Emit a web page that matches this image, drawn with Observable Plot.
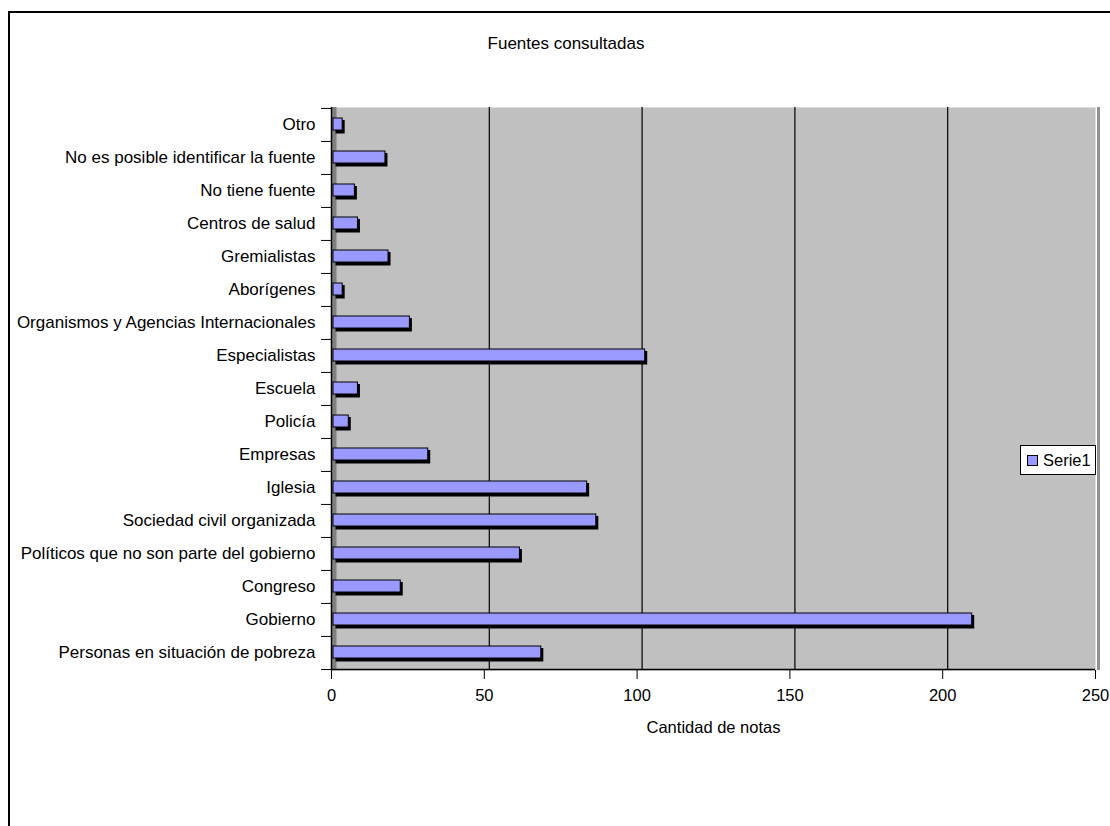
<!DOCTYPE html>
<html>
<head>
<meta charset="utf-8">
<script src="https://cdn.jsdelivr.net/npm/d3@7"></script>
<script src="https://cdn.jsdelivr.net/npm/@observablehq/plot@0.6"></script>
<style>
  html, body { margin: 0; padding: 0; background: #fff; }
  #wrap { position: relative; width: 1110px; height: 826px; overflow: hidden; font-family: "Liberation Sans", Arial, sans-serif; }
  #frame { position: absolute; left: 8px; top: 11px; width: 1200px; height: 900px; border-left: 2px solid #000; border-top: 2px solid #000; box-sizing: border-box; }
  #title { position: absolute; left: 366px; width: 400px; top: 34px; text-align: center; font-size: 17px; color: #000; }
  #chart { position: absolute; left: 0; top: 0; }
  #legend { position: absolute; left: 1020px; top: 445px; width: 76px; height: 30px; box-sizing: border-box; border: 1px solid #000; background: #fff; font-size: 16.5px; display: flex; align-items: center; padding-left: 6px; }
  #legend .sw { width: 9px; height: 9px; background: #9999ff; border: 1px solid #000; margin-right: 5px; flex: none; }
</style>
</head>
<body>
<div id="wrap">
  <div id="frame"></div>
  <div id="chart"></div>
  <div id="title">Fuentes consultadas</div>
  <div id="legend"><span class="sw"></span><span id="legendText"></span></div>
</div>
<script>
const categories = [
  "Personas en situación de pobreza",
  "Gobierno",
  "Congreso",
  "Políticos que no son parte del gobierno",
  "Sociedad civil organizada",
  "Iglesia",
  "Empresas",
  "Policía",
  "Escuela",
  "Especialistas",
  "Organismos y Agencias Internacionales",
  "Aborígenes",
  "Gremialistas",
  "Centros de salud",
  "No tiene fuente",
  "No es posible identificar la fuente",
  "Otro"
];
const serie1 = [68, 209, 22, 61, 86, 83, 31, 5, 8, 102, 25, 3, 18, 8, 7, 17, 3];
const xTicks = [0, 50, 100, 150, 200, 250];
const seriesName = "Serie1";
const xLabel = "Cantidad de notas";

document.getElementById("legendText").textContent = seriesName;

const data = categories.map((c, i) => ({cat: c, val: serie1[i]}));

const W = 1110, H = 826, mL = 331, mR = 15, mT = 107, mB = 156;
const bw = (H - mT - mB) / categories.length;

const plot = Plot.plot({
  width: W, height: H,
  marginLeft: mL, marginRight: mR, marginTop: mT, marginBottom: mB,
  style: {fontFamily: "Liberation Sans, Arial, sans-serif", fontSize: "16px", background: "transparent", color: "#000"},
  x: {domain: [0, 250], ticks: xTicks},
  y: {domain: categories.slice().reverse(), padding: 0},
  marks: [
    Plot.frame({fill: "#c0c0c0", stroke: "none"}),
    Plot.ruleX([0], {stroke: "#808080", strokeWidth: 5, dx: 2.5}),
    Plot.ruleX(xTicks.slice(1, -1), {stroke: "#000", strokeWidth: 1.2, dx: 5}),
    Plot.ruleX([250], {stroke: "#909090", strokeWidth: 3, dx: 3}),
    Plot.barX(data, {x: "val", y: "cat", fill: "#000", insetTop: 10.5, insetBottom: 9, dx: 4.5, dy: 1.5}),
    Plot.barX(data, {x: "val", y: "cat", fill: "#9999ff", stroke: "#000", strokeWidth: 1, insetTop: 10, insetBottom: 11, dx: 2}),
    Plot.ruleX([0], {stroke: "#000", strokeWidth: 1.5}),
    Plot.ruleY([categories[0]], {dy: bw / 2, stroke: "#000", strokeWidth: 1.5}),
    Plot.axisX({ticks: xTicks, tickSize: 9, tickPadding: 10, stroke: "#000", fontSize: 16.5, label: xLabel, labelAnchor: "center", labelArrow: "none", labelOffset: 62}),
    Plot.axisY({tickSize: 0, tickPadding: 16, fontSize: 17, label: null}),
    Plot.axisY({tickSize: 10, tickFormat: () => "", dy: -bw / 2, label: null, stroke: "#000"}),
    Plot.axisY({ticks: [categories[0]], tickSize: 10, tickFormat: () => "", dy: bw / 2, label: null, stroke: "#000"})
  ]
});
document.getElementById("chart").appendChild(plot);
</script>
</body>
</html>
